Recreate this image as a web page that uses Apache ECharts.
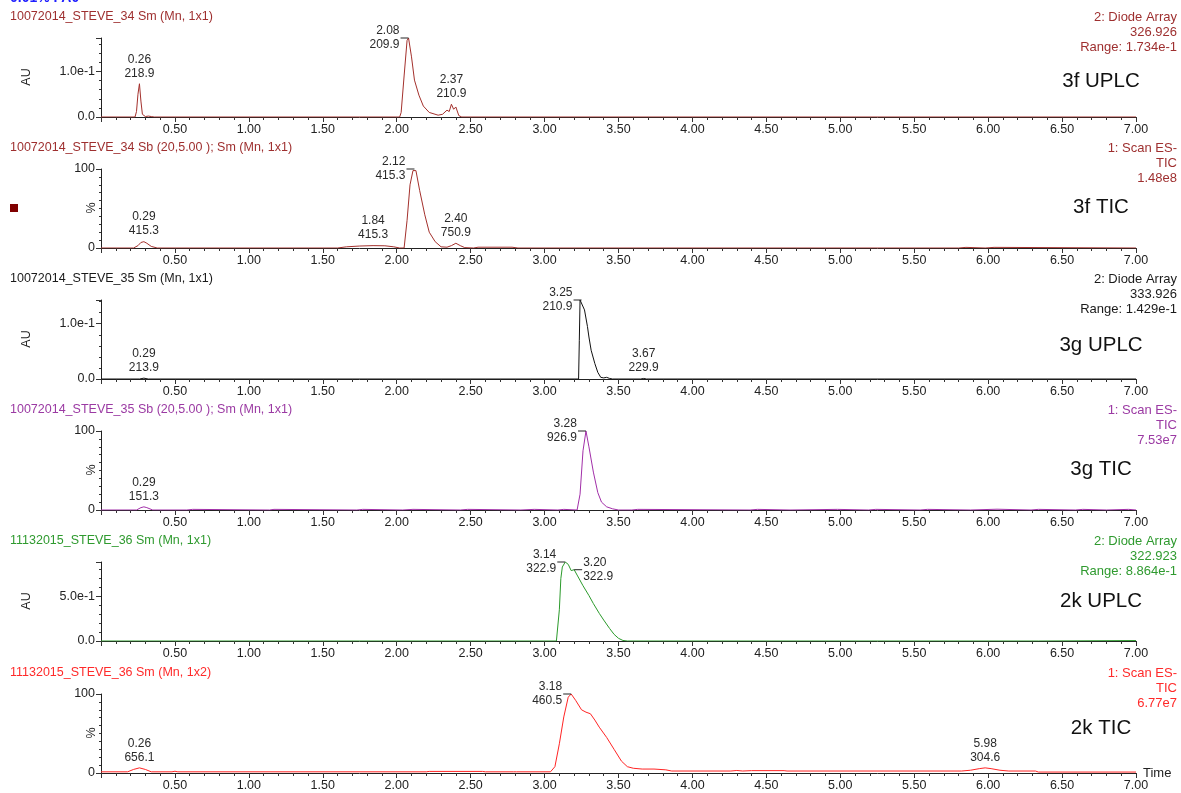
<!DOCTYPE html>
<html><head><meta charset="utf-8">
<script src="https://cdn.jsdelivr.net/npm/echarts@6/dist/echarts.min.js"></script>
<style>html,body{margin:0;padding:0;background:#fff}#c{width:1181px;height:793px}</style>
</head><body><div id="c"></div>
<script>
// ---------- DATA ----------
// [time (min), intensity]
const trace3fUplc = [[0,0],[0.23,0],[0.24,0.012],[0.25,0.05],[0.26,0.073],[0.27,0.035],[0.28,0.006],[0.30,0.001],[0.32,0.002],[0.34,0.001],[0.36,0],
  [2.02,0],[2.03,0.01],[2.05,0.09],[2.07,0.168],[2.08,0.1734],[2.10,0.132],[2.12,0.081],[2.15,0.048],[2.18,0.024],[2.22,0.01],[2.28,0.004],
  [2.31,0.006],[2.34,0.015],[2.355,0.012],[2.37,0.028],[2.385,0.017],[2.40,0.022],[2.42,0.003],[2.44,0],[7.0,0]];
const trace3fTic = [[0,0],[0.22,0],[0.25,3],[0.27,7],[0.29,8],[0.31,6],[0.34,2],[0.38,0],
  [1.60,0],[1.66,1.5],[1.75,2.5],[1.84,3],[1.92,2.8],[1.98,1.5],[2.02,0],
  [2.05,0],[2.07,35],[2.09,80],[2.11,98],[2.12,100],[2.13,98],[2.155,73],[2.19,42],[2.22,20],[2.26,8],[2.30,1.5],
  [2.34,1],[2.37,3],[2.40,6],[2.43,3],[2.46,0.5],[2.52,0],[2.55,1],[2.78,1],[2.82,0],
  [5.80,0],[5.81,0.8],[5.85,0.8],[5.86,0],[5.98,0],[5.99,0.8],[6.04,0.8],[6.05,0],[7.0,0]];
const trace3gUplc = [[0,0],[0.26,0],[0.29,0.0015],[0.32,0],[3.23,0],[3.235,0.07],[3.24,0.1429],[3.25,0.1429],[3.27,0.125],[3.29,0.095],
  [3.30,0.076],[3.315,0.052],[3.34,0.028],[3.36,0.012],[3.38,0.003],[3.40,0.002],[3.42,0.003],[3.44,0.001],[3.46,0],
  [3.65,0],[3.67,0.001],[3.69,0],[7.0,0]];
const trace3gTic = [[0,0],[0.24,0],[0.27,3],[0.29,4],[0.31,3],[0.35,0],[0.58,0],[0.59,0.8],[0.62,0.8],[0.63,0],
  [1.14,0],[1.15,0.8],[1.17,0.8],[1.18,0],[1.73,0],[1.74,0.8],[1.77,0.8],[1.78,0],[2.04,0],[2.05,0.8],[2.11,0.8],[2.12,0],
  [2.43,0],[2.44,0.8],[2.48,0.8],[2.49,0],[2.84,0],[2.85,0.8],[2.93,0.8],[2.94,0],[3.09,0],[3.10,0.8],[3.13,0.8],[3.14,0],
  [3.22,0],[3.24,20],[3.26,75],[3.28,100],[3.30,80],[3.33,48],[3.36,22],[3.385,10],[3.42,4],[3.46,1.5],[3.50,0],
  [3.59,0],[3.60,0.8],[3.63,0.8],[3.64,0],[4.39,0],[4.40,0.8],[4.44,0.8],[4.45,0],[4.66,0],[4.67,0.8],[4.98,0.8],[4.99,0],
  [5.19,0],[5.20,0.8],[5.24,0.8],[5.25,0],[5.54,0],[5.55,0.8],[5.59,0.8],[5.60,0],[5.88,0],[5.89,1],[6.06,1],[6.07,0],
  [6.29,0],[6.30,0.8],[6.34,0.8],[6.35,0],[6.59,0],[6.60,0.8],[6.64,0.8],[6.65,0],[6.80,0],[6.81,0.8],[6.95,0.8],[6.96,0],[7.0,0]];
const trace2kUplc = [[0,0],[3.08,0],[3.09,0.02],[3.10,0.35],[3.11,0.70],[3.12,0.83],[3.14,0.8864],[3.16,0.86],[3.18,0.79],[3.19,0.77],
  [3.20,0.80],[3.22,0.74],[3.26,0.62],[3.30,0.51],[3.33,0.42],[3.37,0.31],[3.40,0.235],[3.44,0.14],[3.47,0.075],[3.50,0.03],
  [3.53,0.006],[3.56,0],[6.34,0],[6.35,0.005],[7.0,0.005]];
const trace2kTic = [[0,1.5],[0.18,1.5],[0.22,4.5],[0.26,6.5],[0.30,4.5],[0.34,1.5],[0.48,1.5],[0.50,2.2],[0.52,1.5],
  [2.20,1.5],[2.22,2],[2.58,2],[2.60,1.5],[2.79,1.5],[2.80,2.5],[2.81,1.5],[3.04,1.5],
  [3.07,8],[3.10,37],[3.13,71],[3.16,96],[3.18,100],[3.21,92],[3.25,80],[3.28,77],[3.31,75],[3.34,67],[3.37,58],
  [3.42,45],[3.47,30],[3.52,15],[3.56,8],[3.60,6],[3.66,5],[3.74,5],[3.82,4],[3.86,2.5],[4.26,2.5],[4.30,3.2],[4.34,2.5],
  [4.40,3],[4.62,3],[4.64,2.5],[5.82,2.5],[5.88,3.5],[5.94,5.5],[5.98,6.5],[6.02,5.5],[6.08,3.5],[6.14,2.5],[6.32,2.5],[6.34,1.2],[7.0,1.2]];

// peak annotations: retention times and second-line values
const peakTimes = [[0.26,2.08,2.37],[0.29,1.84,2.12,2.40],[0.29,3.25,3.67],[0.29,3.28],[3.14,3.20],[0.26,3.18,5.98]];
const peakInfo  = [['218.9','209.9','210.9'],['415.3','415.3','415.3','750.9'],['213.9','210.9','229.9'],['151.3','926.9'],['322.9','322.9'],['656.1','460.5','304.6']];

const traceTitles = ['10072014_STEVE_34 Sm (Mn, 1x1)','10072014_STEVE_34 Sb (20,5.00 ); Sm (Mn, 1x1)','10072014_STEVE_35 Sm (Mn, 1x1)',
  '10072014_STEVE_35 Sb (20,5.00 ); Sm (Mn, 1x1)','11132015_STEVE_36 Sm (Mn, 1x1)','11132015_STEVE_36 Sm (Mn, 1x2)'];
const traceInfo = [['2: Diode Array','326.926','Range: 1.734e-1'],['1: Scan ES-','TIC','1.48e8'],['2: Diode Array','333.926','Range: 1.429e-1'],
  ['1: Scan ES-','TIC','7.53e7'],['2: Diode Array','322.923','Range: 8.864e-1'],['1: Scan ES-','TIC','6.77e7']];
const sampleNames = ['3f UPLC','3f TIC','3g UPLC','3g TIC','2k UPLC','2k TIC'];
const yUnits = ['AU','%','AU','%','AU','%'];
const yMax = [0.1734,100,0.1429,100,0.8864,100];
const yStep = [0.1,100,0.1,100,0.5,100];
const yTickLabels = [['0.0','1.0e-1'],['0','100'],['0.0','1.0e-1'],['0','100'],['0.0','5.0e-1'],['0','100']];
const xTicks = [0.5,1,1.5,2,2.5,3,3.5,4,4.5,5,5.5,6,6.5,7];
const xTitle = 'Time';
const headerText = '0.01% FA0';

// ---------- LAYOUT / STYLE ----------
const traces = [trace3fUplc, trace3fTic, trace3gUplc, trace3gTic, trace2kUplc, trace2kTic];
const FF = '"Liberation Sans", Arial, sans-serif';
const gridTops = [38,169,300,431,562,694];
const GH = 79;
const lineColors = ['#a3302c','#a3302c','#111111','#a12fa8','#2b9a2b','#ff2424'];
const textColors = ['#9e2f2f','#9e2f2f','#1a1a1a','#9b3aa3','#2f9a2f','#ff2a2a'];
const labelSides = [['top','left','top'],['top','top','left','top'],['top','left','top'],['top','left'],['left','right'],['top','left','top']];
const bigLabelDy = [43,38,45,38,39,34];

function nearestVal(tr, t){let b=0;for(let i=1;i<tr.length;i++){if(Math.abs(tr[i][0]-t)<Math.abs(tr[b][0]-t))b=i;}return tr[b][1];}

const grids=[],xAxes=[],yAxes=[],series=[],graphics=[];
graphics.push({type:'text',x:10,y:-2,style:{text:headerText,font:'bold 14px '+FF,fill:'#1f1fff',verticalAlign:'middle'}});
graphics.push({type:'rect',shape:{x:10,y:204,width:8,height:8},style:{fill:'#800000'}});
graphics.push({type:'text',x:1143,y:773,style:{text:xTitle,font:'13px '+FF,fill:'#222',verticalAlign:'middle'}});

for(let p=0;p<6;p++){
  const top=gridTops[p];
  grids.push({left:101,right:45,top:top,height:GH});
  xAxes.push({type:'value',gridIndex:p,min:0,max:7,interval:0.5,
    axisLine:{lineStyle:{color:'#222',width:1}},
    axisTick:{show:true,length:5,lineStyle:{color:'#333'}},
    minorTick:{show:true,splitNumber:5,length:3,lineStyle:{color:'#333'}},
    splitLine:{show:false},
    axisLabel:{fontSize:12.5,fontFamily:FF,color:'#222',margin:6,
      formatter:v=>xTicks.some(x=>Math.abs(x-v)<1e-9)?v.toFixed(2):''}});
  const lbl=yTickLabels[p], st=yStep[p];
  yAxes.push({type:'value',gridIndex:p,min:0,max:yMax[p],interval:st,
    axisLine:{show:true,lineStyle:{color:'#222',width:1}},
    axisTick:{show:true,length:5,lineStyle:{color:'#333'}},
    minorTick:{show:true,splitNumber:yUnits[p]==='%'?10:5,length:2,lineStyle:{color:'#333'}},
    splitLine:{show:false},
    axisLabel:{fontSize:12.5,fontFamily:FF,color:'#222',margin:6,
      formatter:v=>Math.abs(v)<1e-12?lbl[0]:(Math.abs(v-st)<1e-9?lbl[1]:'')}});
  const tr=traces[p];
  const mp=peakTimes[p].map((t,i)=>{
    const y=nearestVal(tr,t), side=labelSides[p][i];
    const lab={show:true,formatter:t.toFixed(2)+'\n'+peakInfo[p][i],color:'#2a2a2a',fontSize:12,fontFamily:FF,lineHeight:14};
    if(side==='top'){
      return {coord:[t,y],symbol:'circle',symbolSize:1,itemStyle:{color:'rgba(0,0,0,0)'},label:Object.assign(lab,{position:'top',distance:3,align:'center'})};
    }
    const dir=side==='left'?-1:1;
    return {coord:[t,y],symbol:'rect',symbolSize:[8,1],symbolOffset:[dir*4,0],itemStyle:{color:'#222'},
      label:Object.assign(lab,{position:side,distance:1})};
  });
  series.push({type:'line',xAxisIndex:p,yAxisIndex:p,data:tr,showSymbol:false,symbol:'none',
    lineStyle:{color:lineColors[p],width:1},itemStyle:{color:lineColors[p]},z:3,silent:true,
    markPoint:{silent:true,animation:false,data:mp}});
  graphics.push({type:'text',x:10,y:top-21,style:{text:traceTitles[p],font:'12.5px '+FF,fill:textColors[p],verticalAlign:'middle'}});
  graphics.push({type:'text',x:1177,y:top-28.5,style:{text:traceInfo[p].join('\n'),font:'13px '+FF,fill:textColors[p],align:'right',verticalAlign:'top',lineHeight:15}});
  graphics.push({type:'text',x:1101,y:top+bigLabelDy[p],style:{text:sampleNames[p],font:'20.5px '+FF,fill:'#111',align:'center',verticalAlign:'middle'}});
  const ux=yUnits[p]==='AU'?27:92;
  graphics.push({type:'text',x:ux,y:top+39,rotation:Math.PI/2,style:{text:yUnits[p],font:'12.5px '+FF,fill:'#222',align:'center',verticalAlign:'middle'}});
}

const chart=echarts.init(document.getElementById('c'),null,{renderer:'canvas'});
chart.setOption({animation:false,backgroundColor:'#fff',grid:grids,xAxis:xAxes,yAxis:yAxes,series:series,graphic:graphics});
</script></body></html>
